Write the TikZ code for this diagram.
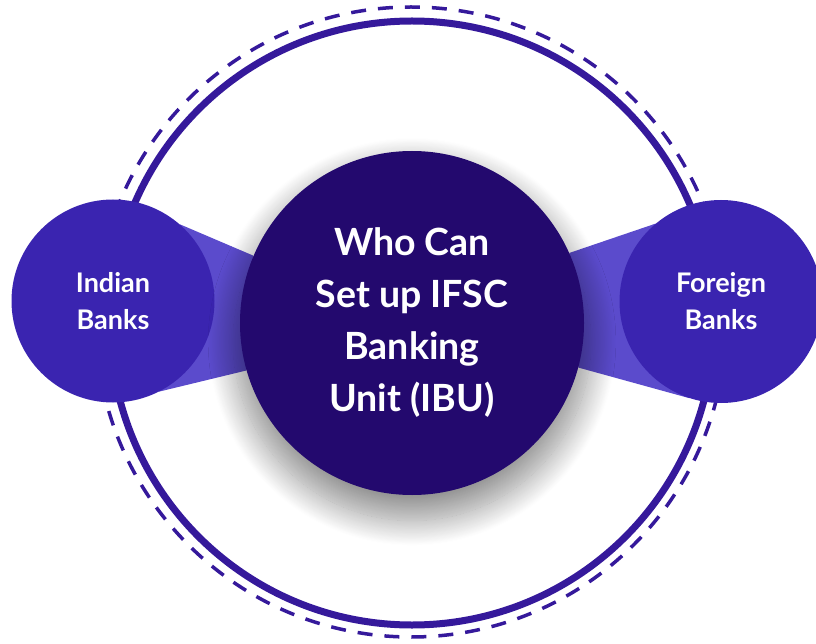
\documentclass[tikz,border=0pt]{standalone}
\usepackage{fontspec}
\setmainfont{Lato}
\usetikzlibrary{shadows.blur}
\definecolor{ringblue}{HTML}{35199B}
\definecolor{bankblue}{HTML}{3A24B0}
\definecolor{ibublue}{HTML}{23096E}
\definecolor{bandblue}{HTML}{5B4BCC}
\pgfdeclarelayer{back}
\pgfdeclarelayer{mid}
\pgfsetlayers{back,mid,main}

\begin{document}
\begin{tikzpicture}[x=1pt, y=-1pt,
    bank/.style={circle, fill=bankblue, minimum size=203pt, inner sep=0pt, text=white, align=center,
        font=\bfseries\fontsize{27}{37}\selectfont},
    ibu/.style={circle, fill=ibublue, minimum size=344pt, inner sep=0pt, text=white, align=center,
        font=\bfseries\fontsize{37.5}{52}\selectfont,
        blur shadow={shadow xshift=0pt, shadow yshift=-18pt, shadow scale=1.04, shadow blur radius=24pt,
            shadow blur steps=30, shadow opacity=42}},
    band/.style={fill=bandblue},
    rim/.style={draw=ringblue, line width=7pt},
    dashrim/.style={draw=ringblue, line width=3.5pt, dash pattern=on 15pt off 12pt}]

    \useasboundingbox (0,0) rectangle (816,644);

    % Nodes
    \node[bank] (indian) at (113,301) {Indian\\Banks};
    \node[bank] (foreign) at (721,301.5) {Foreign\\Banks};
    \node[ibu] (ibu) at (412,323) {Who Can\\Set up IFSC\\Banking\\Unit (IBU)};

    % Rings
    \begin{pgfonlayer}{back}
    \draw[rim] (ibu.center) circle[radius=302pt];
    \draw[dashrim] (411,322) circle[radius=315pt];
    \end{pgfonlayer}

    % Edges
    \begin{pgfonlayer}{mid}
    \fill[band] (indian.49) -- (ibu.157) -- (ibu.196) -- (indian.-63) -- cycle;
    \fill[band] (foreign.130) -- (ibu.24) -- (ibu.-15) -- (foreign.-108) -- cycle;
    \end{pgfonlayer}

\end{tikzpicture}
\end{document}
